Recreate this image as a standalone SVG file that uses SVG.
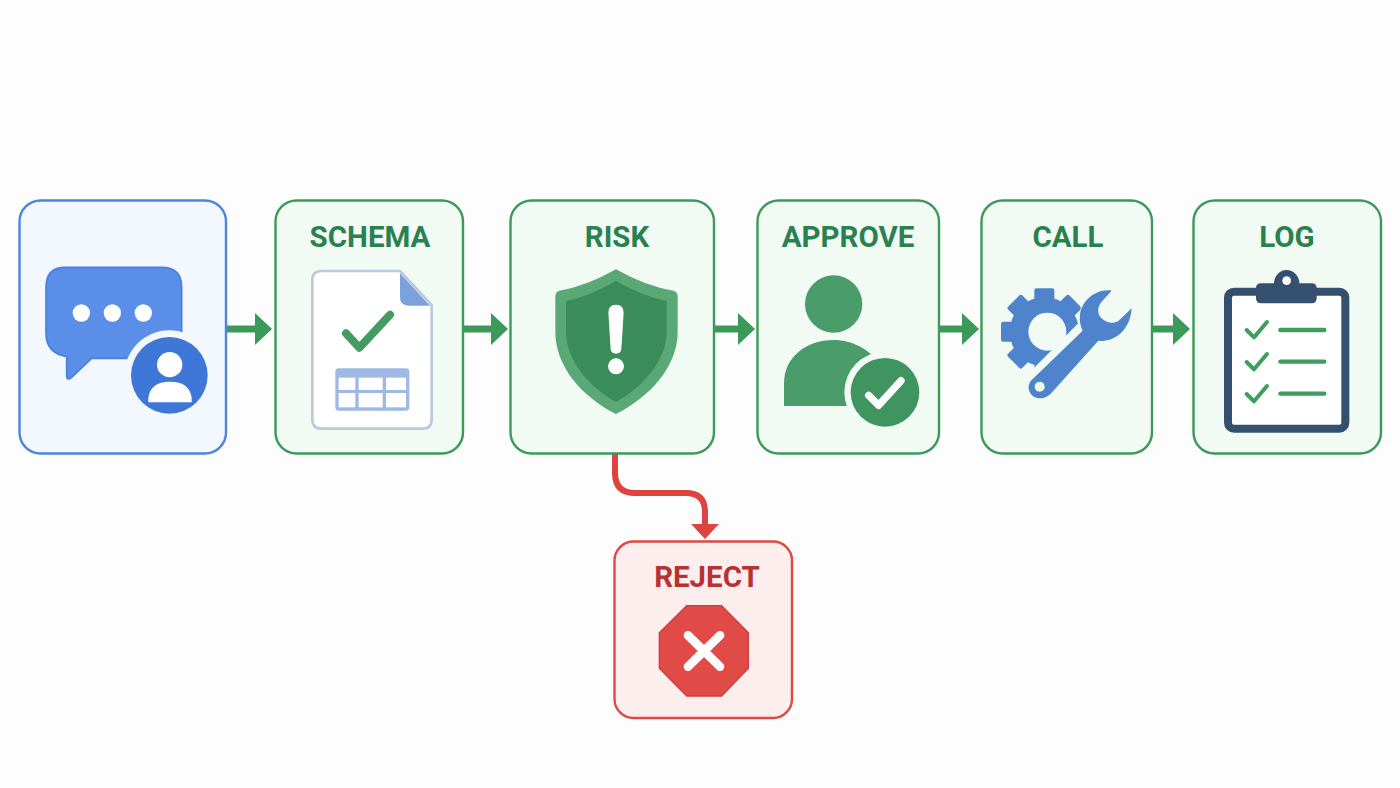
<svg xmlns="http://www.w3.org/2000/svg" width="1400" height="788" viewBox="0 0 1400 788">
<style>
.card{stroke-width:2.4}
.g{fill:#f2faf4;stroke:#3b9a5a}
.b{fill:#f3f8fe;stroke:#4a86de}
.r{fill:#fdeeee;stroke:#dd4a46}
.t{font-family:Roboto,"Liberation Sans",Arial,sans-serif;font-weight:700;font-size:29.5px;text-anchor:middle;fill:#2a8150}
.gc{fill:none;stroke:#3b9a5a;stroke-width:7}
.rc{fill:none;stroke:#dd4440;stroke-width:6}
</style>
<defs>
<marker id="ga" markerUnits="userSpaceOnUse" viewBox="0 0 17 32" refX="0" refY="16" markerWidth="17" markerHeight="32" orient="auto"><path d="M0 0L17 16L0 32Z" fill="#3b9a5a"/></marker>
<marker id="ra" markerUnits="userSpaceOnUse" viewBox="0 0 15 28" refX="0" refY="14" markerWidth="15" markerHeight="28" orient="auto"><path d="M0 0L15 14L0 28Z" fill="#dd4440"/></marker>
</defs>
<rect width="1400" height="788" fill="#fdfdfe"/>
<g id="connectors">
<path class="gc" d="M227 329H255" marker-end="url(#ga)"/>
<path class="gc" d="M464 329H491" marker-end="url(#ga)"/>
<path class="gc" d="M715 329H738" marker-end="url(#ga)"/>
<path class="gc" d="M940 329H962" marker-end="url(#ga)"/>
<path class="gc" d="M1153 329H1173" marker-end="url(#ga)"/>
<path class="rc" d="M615 454V473Q615 493 635 493H686Q705 493 705 512V524" marker-end="url(#ra)"/>
</g>
<g id="node-request">
<rect class="card b" x="19.5" y="200.5" width="206.5" height="253" rx="21"/>
<g transform="translate(10 190) scale(.33333)">
<path d="M165 232H455Q515 232 515 292V440Q515 505 455 505H245L185 562Q170 575 170 555V500Q108 490 108 430V292Q108 232 165 232Z" fill="#5a8ee8" stroke="#4a7fdc" stroke-width="5"/>
<circle cx="214" cy="369" r="26" fill="#fff"/><circle cx="307" cy="369" r="26" fill="#fff"/><circle cx="400" cy="369" r="26" fill="#fff"/>
<circle cx="478" cy="556" r="135" fill="#f3f8fe"/>
<circle cx="478" cy="556" r="115" fill="#3f77d8"/>
<circle cx="479" cy="524" r="38" fill="#fff"/>
<path d="M415 637V625Q420 575 480 575Q540 575 545 625V637Z" fill="#fff"/>
</g>
</g>
<g id="node-schema">
<rect class="card g" x="275.5" y="200.5" width="187.5" height="253" rx="21"/>
<text class="t" x="370" y="247">SCHEMA</text>
<g transform="translate(10 190) scale(.33333)">
<path d="M935 243H1170L1265 345V690Q1265 716 1238 716H935Q907 716 907 690V270Q907 243 935 243Z" fill="#fff" stroke="#bcc9dd" stroke-width="8"/>
<path d="M1170 250L1260 347H1195Q1170 347 1170 322Z" fill="#7ba2da"/>
<path d="M1008 430L1048 473L1140 374" fill="none" stroke="#449c62" stroke-width="24" stroke-linecap="round" stroke-linejoin="round"/>
<rect x="976" y="535" width="222" height="127" rx="10" fill="#9fb9e4"/>
<g fill="#fff"><rect x="986" y="563" width="50" height="37"/><rect x="1046" y="563" width="72" height="37"/><rect x="1128" y="563" width="60" height="37"/><rect x="986" y="609" width="50" height="43"/><rect x="1046" y="609" width="72" height="43"/><rect x="1128" y="609" width="60" height="43"/></g>
</g>
</g>
<g id="node-risk">
<rect class="card g" x="510.5" y="200.5" width="203.5" height="253" rx="21"/>
<text class="t" x="617" y="247">RISK</text>
<g transform="translate(500 190) scale(.33333)">
<path d="M348 238Q440 290 520 302Q533 305 533 320V425C533 530 450 620 348 672C246 620 166 530 166 425V320Q166 305 178 302Q256 290 348 238Z" fill="#5ba877"/>
<path d="M348 273Q430 320 500 333V425C500 510 430 590 348 636C266 590 198 510 198 425V333Q266 320 348 273Z" fill="#3a8d59"/>
<path d="M325 368Q325 344 348 344Q371 344 371 368L364 478Q362 491 348 491Q334 491 332 478Z" fill="#fff"/>
<circle cx="348" cy="529" r="24" fill="#fff"/>
</g>
</g>
<g id="node-approve">
<rect class="card g" x="757.5" y="200.5" width="181.5" height="253" rx="21"/>
<text class="t" x="848" y="247">APPROVE</text>
<g transform="translate(500 190) scale(.33333)">
<circle cx="1001" cy="342" r="86" fill="#4b9c6b"/>
<path d="M852 648V580C852 500 920 450 1000 450C1060 450 1105 480 1130 510V648Z" fill="#4b9c6b"/>
<circle cx="1155" cy="607" r="122" fill="#f2faf4"/>
<circle cx="1155" cy="607" r="103" fill="#3f9460"/>
<path d="M1106 616L1136 646L1203 572" fill="none" stroke="#fff" stroke-width="22" stroke-linecap="round" stroke-linejoin="round"/>
</g>
</g>
<g id="node-call">
<rect class="card g" x="981.5" y="200.5" width="170.5" height="253" rx="21"/>
<text class="t" x="1068" y="247">CALL</text>
<g transform="translate(950 190) scale(.33333)">
<g fill="#4f84cc">
<circle cx="283" cy="425" r="104"/>
<rect x="253" y="295" width="60" height="50" rx="6"/>
<rect x="253" y="295" width="60" height="50" rx="6" transform="rotate(-45 283 425)"/>
<rect x="253" y="295" width="60" height="50" rx="6" transform="rotate(-90 283 425)"/>
<rect x="253" y="295" width="60" height="50" rx="6" transform="rotate(-135 283 425)"/>
<rect x="253" y="295" width="60" height="50" rx="6" transform="rotate(-180 283 425)"/>
<rect x="253" y="295" width="60" height="50" rx="6" transform="rotate(45 283 425)"/>
</g>
<circle cx="292" cy="425" r="57" fill="#f2faf4"/>
<path d="M392 392L246 540L300 640L560 480L560 290L392 290Z" fill="#f2faf4"/>
<path d="M485 302C440 295 395 330 390 375C388 395 392 410 398 422L245 570C225 590 240 625 270 625C285 625 295 618 305 608L445 452C490 458 540 425 545 355L505 393C490 402 470 400 455 385C440 370 442 350 455 335Z" fill="#4f84cc"/>
<circle cx="269" cy="590" r="15" fill="#f2faf4"/>
</g>
</g>
<g id="node-log">
<rect class="card g" x="1193.5" y="200.5" width="187.5" height="253" rx="21"/>
<text class="t" x="1287" y="247">LOG</text>
<g transform="translate(950 190) scale(.33333)">
<rect x="834" y="305" width="352" height="411" rx="18" fill="#fff" stroke="#35506f" stroke-width="24"/>
<path d="M972 280A38 40 0 0 1 1048 280H1085Q1100 280 1100 295V325Q1100 340 1085 340H933Q918 340 918 325V295Q918 280 933 280Z" fill="#35506f"/>
<circle cx="1010" cy="272" r="13" fill="#fff"/>
<g fill="none" stroke="#3f9e5f" stroke-linecap="round" stroke-linejoin="round">
<path stroke-width="12" d="M890 420L912 442L951 396M890 516L912 538L951 492M890 612L912 634L951 588"/>
<path stroke-width="13" d="M991 420H1123M991 515H1123M991 611H1123"/>
</g>
</g>
</g>
<g id="node-reject">
<rect class="card r" x="614.5" y="541.5" width="177.5" height="176.5" rx="19"/>
<text class="t" x="707" y="587" style="fill:#b83232">REJECT</text>
<g transform="translate(590 450) scale(.33333)">
<path d="M290 467H395L475 548V655L395 738H290L208 655V548Z" fill="#e14b47" stroke="#cf3d3a" stroke-width="4" stroke-linejoin="round"/>
<path d="M294 556L390 650M390 556L294 650" stroke="#fff" stroke-width="26" stroke-linecap="round"/>
</g>
</g>
</svg>
